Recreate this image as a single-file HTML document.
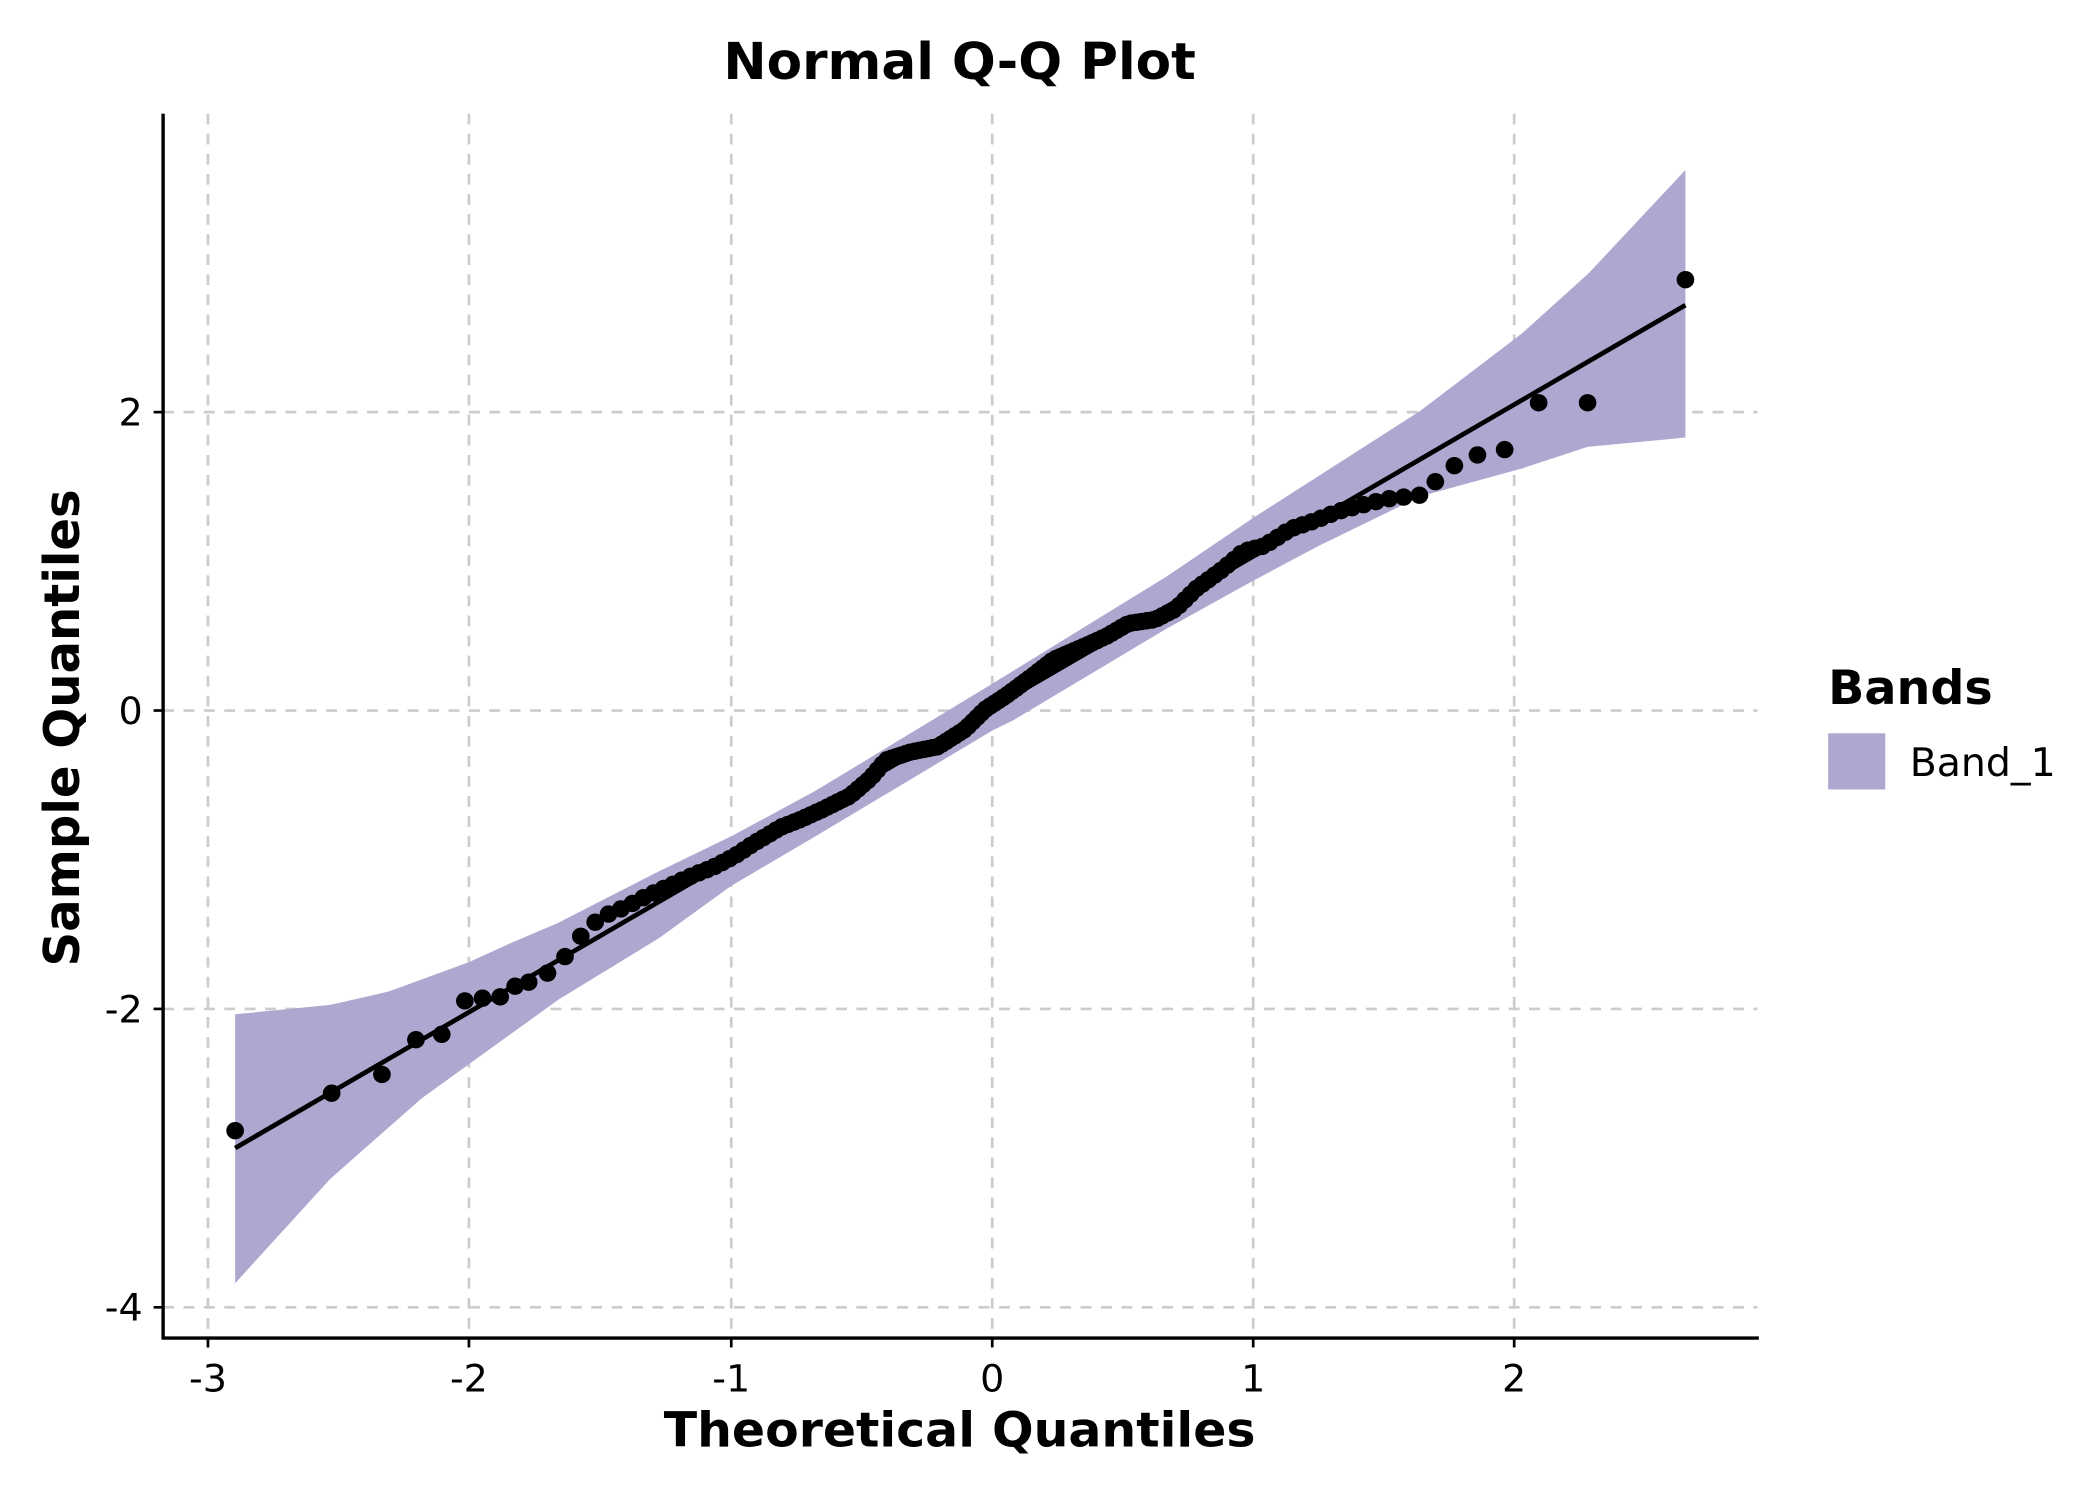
<!DOCTYPE html>
<html><head><meta charset="utf-8"><style>
html,body{margin:0;padding:0;background:#fff;}
svg{display:block;}
text{font-family:"DejaVu Sans","Liberation Sans",sans-serif;}
</style></head><body>
<svg id="s" width="2100" height="1500" viewBox="0 0 1545 1121" preserveAspectRatio="none" xmlns="http://www.w3.org/2000/svg">
<rect width="1545" height="1121" fill="#fff"/>
<g stroke="#cccccc" stroke-width="2" stroke-dasharray="8,7">
<line x1="153" y1="85" x2="153" y2="1000"/><line x1="345" y1="85" x2="345" y2="1000"/>
<line x1="538" y1="85" x2="538" y2="1000"/><line x1="730" y1="85" x2="730" y2="1000"/>
<line x1="922" y1="85" x2="922" y2="1000"/><line x1="1114" y1="85" x2="1114" y2="1000"/>
<line x1="120" y1="308" x2="1293" y2="308"/><line x1="120" y1="531" x2="1293" y2="531"/>
<line x1="120" y1="754" x2="1293" y2="754"/><line x1="120" y1="977" x2="1293" y2="977"/>
</g>
<polygon fill="#aea8d1" points="173,758 243,751 286,741 345,719 373,706 410,690 485,651 538,625 600,591 730,511 746,501 858,431 922,387 1045,307 1120,249 1169,204 1240,127 1240,327 1168,334 1120,350 1045,371 970,408 922,434 858,470 746,538 730,546 600,625 538,662 485,701 411,747 385,766 310,821 243,881 173,959"/>
<line x1="173" y1="858" x2="1240" y2="228" stroke="#000" stroke-width="3.5"/>
<g id="pts" fill="#000"></g>
<line x1="120" y1="85" x2="120" y2="1001" stroke="#000" stroke-width="2.5"/>
<line x1="119" y1="1000" x2="1294" y2="1000" stroke="#000" stroke-width="2.5"/>
<g stroke="#000" stroke-width="2">
<line x1="153" y1="1000" x2="153" y2="1007"/><line x1="345" y1="1000" x2="345" y2="1007"/>
<line x1="538" y1="1000" x2="538" y2="1007"/><line x1="730" y1="1000" x2="730" y2="1007"/>
<line x1="922" y1="1000" x2="922" y2="1007"/><line x1="1114" y1="1000" x2="1114" y2="1007"/>
<line x1="113" y1="308" x2="120" y2="308"/><line x1="113" y1="531" x2="120" y2="531"/>
<line x1="113" y1="754" x2="120" y2="754"/><line x1="113" y1="977" x2="120" y2="977"/>
</g>
<g font-size="28" text-anchor="middle" fill="#000">
<text x="153" y="1040">-3</text><text x="345" y="1040">-2</text><text x="538" y="1040">-1</text>
<text x="730" y="1040">0</text><text x="922" y="1040">1</text><text x="1114" y="1040">2</text>
</g>
<g font-size="28" text-anchor="end" fill="#000">
<text x="105" y="318">2</text><text x="105" y="541">0</text><text x="105" y="764">-2</text><text x="105" y="987">-4</text>
</g>
<text x="706" y="59" font-size="38" font-weight="bold" text-anchor="middle">Normal Q-Q Plot</text>
<text x="706" y="1081" font-size="36" font-weight="bold" text-anchor="middle">Theoretical Quantiles</text>
<text transform="translate(58,544) rotate(-90)" font-size="36" font-weight="bold" text-anchor="middle">Sample Quantiles</text>
<text x="1345" y="526" font-size="35" font-weight="bold">Bands</text>
<rect x="1345" y="548" width="42" height="42" fill="#aea8d1"/>
<text x="1405" y="580" font-size="29">Band_1</text>
</svg>
<script>
(function(){
var P=[[173,845],[244,817],[281,803],[306,777],[325,773],[342,748],[355,746],[368,745],[379,737],[389,734],[402,728],[415,716],[422,705],[437,690],[443,685],[460,678],[475,670],[497,660],[510,654],[525,648],[540,640],[555,630],[575,618],[590,612],[605,605],[625,595],[640,582],[652,568],[670,562],[690,558],[710,545],[725,530],[740,520],[760,505],[775,493],[800,482],[815,475],[830,466],[850,463],[865,455],[880,440],[900,425],[915,412],[930,408],[950,395],[965,390],[985,382],[1000,378],[1020,373],[1045,370],[1056,360],[1070,348],[1087,340],[1107,336],[1132,301],[1168,301],[1240,209]];
function interp(x){for(var i=1;i<P.length;i++){if(x<=P[i][0]){var a=P[i-1],b=P[i];return a[1]+(b[1]-a[1])*(x-a[0])/(b[0]-a[0]);}}return P[P.length-1][1];}
function ninv(p){var a=[-39.6968302866538,220.946098424521,-275.928510446969,138.357751867269,-30.6647980661472,2.50662827745924],b=[-54.4760987982241,161.585836858041,-155.698979859887,66.8013118877197,-13.2806815528857],c=[-0.00778489400243029,-0.322396458041136,-2.40075827716184,-2.54973253934373,4.37466414146497,2.93816398269878],d=[0.00778469570904146,0.32246712907004,2.445134137143,3.75440866190742];var q,r;if(p<0.02425){q=Math.sqrt(-2*Math.log(p));return(((((c[0]*q+c[1])*q+c[2])*q+c[3])*q+c[4])*q+c[5])/((((d[0]*q+d[1])*q+d[2])*q+d[3])*q+1);}if(p>1-0.02425){q=Math.sqrt(-2*Math.log(1-p));return-(((((c[0]*q+c[1])*q+c[2])*q+c[3])*q+c[4])*q+c[5])/((((d[0]*q+d[1])*q+d[2])*q+d[3])*q+1);}q=p-0.5;r=q*q;return(((((a[0]*r+a[1])*r+a[2])*r+a[3])*r+a[4])*r+a[5])*q/(((((b[0]*r+b[1])*r+b[2])*r+b[3])*r+b[4])*r+1);}
var g=document.getElementById('pts'),h='';
var xs=[173,244,281,306,325,342,355,368,379,389,1056,1070,1087,1107,1132,1168,1240];
var n=150;
for(var i=1;i<=n;i++){var t=ninv((i-0.3175)/(n+0.365));var x=730+t*192.3;if(x>395&&x<1050)xs.push(x);}
for(var k=0;k<xs.length;k++){var x=xs[k];h+='<circle cx="'+x.toFixed(1)+'" cy="'+interp(x).toFixed(1)+'" r="6.5"/>';}
g.innerHTML=h;
})();
</script>
</body></html>
